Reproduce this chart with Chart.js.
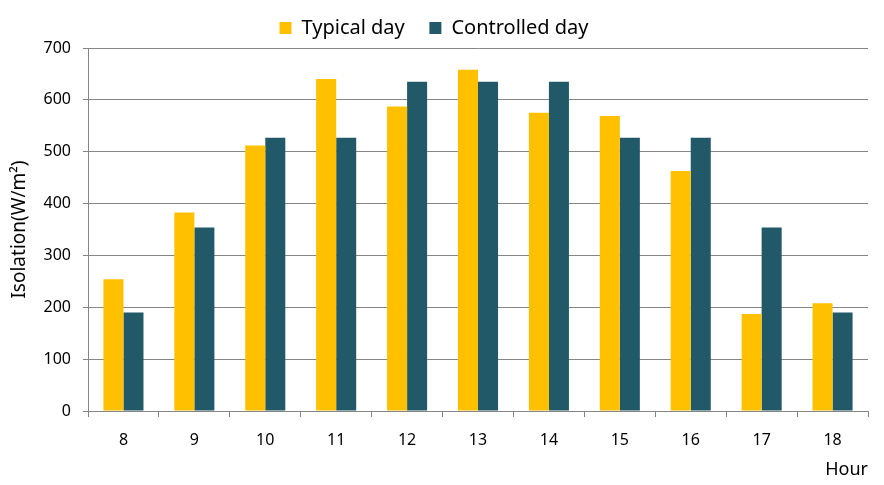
<!DOCTYPE html>
<html>
<head>
<meta charset="utf-8">
<script src="https://cdn.jsdelivr.net/npm/chart.js@4"></script>
<style>
  html, body { margin: 0; padding: 0; background: #fff; }
  #wrap { width: 884px; height: 485px; }
</style>
</head>
<body>
<div id="wrap"><canvas id="chart" width="884" height="485"></canvas></div>
<script>
const hours = ['8', '9', '10', '11', '12', '13', '14', '15', '16', '17', '18'];
const typicalDay = [254, 383, 512, 640, 587, 658, 575, 569, 463, 187, 208];
const controlledDay = [190, 354, 527, 527, 635, 635, 635, 527, 527, 354, 190];
const yTicks = [0, 100, 200, 300, 400, 500, 600, 700];

const gridGray = '#868686';
const fontFamily = '"Noto Sans", "DejaVu Sans", sans-serif';

const ctx = document.getElementById('chart').getContext('2d');

new Chart(ctx, {
    type: 'bar',
    data: {
        labels: hours,
        datasets: [
            {
                label: 'Typical day',
                data: typicalDay,
                backgroundColor: '#FFC000'
            },
            {
                label: 'Controlled day',
                data: controlledDay,
                backgroundColor: '#215968'
            }
        ]
    },
    options: {
        responsive: false,
        animation: false,
        layout: { padding: { top: 9, right: 16, left: 0, bottom: 0 } },
        datasets: {
            // two bars sit side by side, gap between categories
            bar: { barPercentage: 1.0, categoryPercentage: 0.565 }
        },
        plugins: {
            legend: {
                position: 'top',
                labels: {
                    color: '#000',
                    font: { family: fontFamily, size: 20 },
                    boxWidth: 12,
                    boxHeight: 12,
                    padding: 9,
                    // wider gap between the two legend entries
                    generateLabels: (chart) => {
                        const items = Chart.defaults.plugins.legend.labels.generateLabels(chart);
                        items[0].text = items[0].text + '   ';
                        return items;
                    }
                }
            },
            tooltip: { enabled: false }
        },
        scales: {
            x: {
                offset: true,
                grid: {
                    offset: true,
                    drawOnChartArea: false,
                    drawTicks: true,
                    tickLength: 6,
                    color: gridGray
                },
                border: { color: gridGray },
                ticks: {
                    color: '#000',
                    font: { family: fontFamily, size: 16 },
                    padding: 14
                },
                title: {
                    display: true,
                    text: 'Hour',
                    align: 'end',
                    color: '#000',
                    font: { family: fontFamily, size: 18 },
                    padding: { top: 0 }
                },
                afterFit: (scale) => { scale.height = 74; }
            },
            y: {
                min: 0,
                max: 700,
                afterBuildTicks: (scale) => {
                    scale.ticks = yTicks.map(v => ({ value: v }));
                },
                grid: {
                    color: gridGray,
                    tickLength: 5
                },
                border: { color: gridGray },
                ticks: {
                    color: '#000',
                    font: { family: fontFamily, size: 16 },
                    padding: 12
                },
                title: {
                    display: true,
                    text: 'Isolation(W/m²)',
                    color: '#000',
                    font: { family: fontFamily, size: 19 },
                    padding: { top: 8, bottom: 0 }
                },
                afterFit: (scale) => { scale.width = 88; }
            }
        }
    }
});
</script>
</body>
</html>
